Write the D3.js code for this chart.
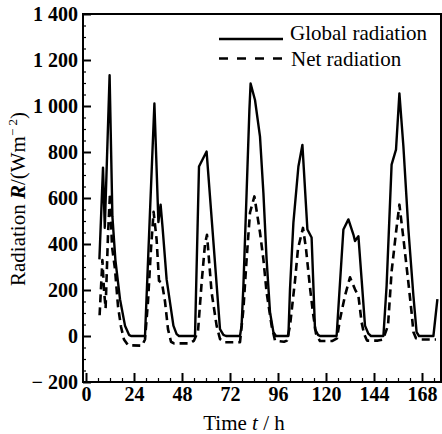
<!DOCTYPE html>
<html>
<head>
<meta charset="utf-8">
<script src="https://cdn.jsdelivr.net/npm/d3@7"></script>
<style>
  body { margin: 0; background: #fff; }
  svg text { font-family: "Liberation Serif", "DejaVu Serif", serif; fill: #000; }
</style>
</head>
<body>
<div id="chart"></div>
<script>
// Global radiation (solid line), hours and W/m2
var globalHours = [6.7, 8.5, 9.4, 11.8, 13.2, 14.7, 17, 19.5, 21.5, 22.5, 29.5,
  32, 34.2, 36.2, 37.3, 38.3, 40.3, 43.7, 45.3, 46.5, 54.5,
  56.5, 60.3, 67, 68.7, 70, 77,
  77.8, 78.7, 80.3, 81.7, 82.3, 84.5, 87, 88.7, 90.3, 92, 93.7, 95, 101.2,
  102, 103.7, 106.2, 108.2, 110.7, 112.8, 114.5, 116, 117, 125.3,
  128.7, 131.2, 133.7, 134.5, 136.2, 137.8, 139.5, 141.2, 142.5, 148.7,
  150.3, 152.8, 155, 156.7, 158.7, 161.2, 163.7, 165.3, 166.5, 173.7, 175.7];
var globalValues = [333, 732, 470, 1134, 520, 330, 160, 45, 5, 0, 0,
  540, 1011, 495, 571, 470, 247, 45, 8, 0, 0,
  737, 802, 30, 5, 0, 0,
  45, 218, 622, 983, 1098, 1026, 867, 622, 333, 104, 17, 0, 0,
  203, 493, 737, 831, 463, 428, 30, 5, 0, 0,
  463, 507, 441, 413, 434, 247, 45, 10, 0, 0,
  218, 745, 810, 1055, 824, 463, 175, 17, 0, 0, 160];

// Net radiation (dashed line)
var netHours = [6.8, 8.2, 9, 9.8, 11, 12, 13, 14.5, 16, 17.5, 19, 21, 28, 29.5,
  31, 32.5, 33.8, 35.3, 36.5, 38, 39.5, 41, 42.5, 44, 52,
  54, 56, 57.8, 59.5, 60.5, 62.8, 65.3, 67, 69, 77,
  78.7, 80.3, 82, 84.2, 87, 88.7, 90.3, 92.8, 94.5, 99,
  100.5, 102, 104.5, 106, 108.5, 110, 112, 113.5, 115, 117, 123,
  125.5, 127, 129.5, 132, 134.5, 136.2, 137.8, 139, 140.5, 146,
  148.5, 151, 152.8, 155, 156.7, 158.5, 161, 162.8, 163.7, 165, 167, 175];
var netValues = [90, 330, 200, 120, 440, 620, 390, 290, 130, 40, -15, -40, -42, -15,
  150, 380, 540, 420, 240, 230, 150, 30, -25, -32, -32,
  -20, 20, 230, 400, 440, 190, 45, -13, -27, -27,
  117, 333, 537, 607, 450, 333, 190, 45, -20, -25,
  -20, 45, 240, 380, 470, 380, 210, 100, 10, -22, -22,
  -10, 73, 175, 255, 203, 175, 60, 10, -20, -20,
  -15, 45, 280, 450, 571, 440, 247, 102, 17, -10, -15, -15];

var xTicks = [0, 24, 48, 72, 96, 120, 144, 168];
var xTickLabels = ['0', '24', '48', '72', '96', '120', '144', '168'];
var yTicks = [-200, 0, 200, 400, 600, 800, 1000, 1200, 1400];
var yTickLabels = ['\u2212 200', '0', '200', '400', '600', '800', '1 000', '1 200', '1 400'];
var seriesNames = ['Global radiation', 'Net radiation'];

var W = 442, H = 434;
var svg = d3.select('#chart').append('svg').attr('width', W).attr('height', H);

var x = d3.scaleLinear().domain([-1.5, 177.5]).range([83, 441]);
var y = d3.scaleLinear().domain([-200, 1400]).range([382, 14]);

// minor ticks
var xMinor = d3.range(0, 178, 6).filter(function (d) { return d % 24 !== 0; });
var yMinor = d3.range(-200, 1401, 50).filter(function (d) { return d % 200 !== 0; });

svg.append('g').attr('transform', 'translate(0,382)')
  .call(d3.axisBottom(x).tickValues(xMinor).tickSize(-4).tickFormat(''))
  .call(function (g) { g.select('.domain').remove(); g.selectAll('line').attr('stroke-width', 1.2); });
svg.append('g').attr('transform', 'translate(83,0)')
  .call(d3.axisLeft(y).tickValues(yMinor).tickSize(-3).tickFormat(''))
  .call(function (g) { g.select('.domain').remove(); g.selectAll('line').attr('stroke-width', 1.2); });

// major ticks
var xAxis = svg.append('g').attr('transform', 'translate(0,382)')
  .call(d3.axisBottom(x).tickValues(xTicks).tickSize(-9).tickPadding(4)
    .tickFormat(function (d, i) { return xTickLabels[i]; }));
var yAxis = svg.append('g').attr('transform', 'translate(83,0)')
  .call(d3.axisLeft(y).tickValues(yTicks).tickSize(-8).tickPadding(5)
    .tickFormat(function (d, i) { return yTickLabels[i]; }));

[xAxis, yAxis].forEach(function (g) {
  g.select('.domain').remove();
  g.selectAll('line').attr('stroke-width', 2);
  g.selectAll('text').attr('font-family', '"Liberation Serif", serif')
    .attr('font-size', 20).attr('font-weight', 'bold');
});
xAxis.selectAll('text').attr('dy', '0.74em');

// frame
svg.append('rect').attr('x', 83).attr('y', 14).attr('width', 358).attr('height', 368)
  .attr('fill', 'none').attr('stroke', '#000').attr('stroke-width', 2);

var line = d3.line().x(function (d) { return x(d[0]); }).y(function (d) { return y(d[1]); });

var netData = netHours.map(function (h, i) { return [h, netValues[i]]; });
var globalData = globalHours.map(function (h, i) { return [h, globalValues[i]]; });

svg.append('path').datum(netData).attr('d', line)
  .attr('fill', 'none').attr('stroke', '#000').attr('stroke-width', 2.6)
  .attr('stroke-dasharray', '8,5').attr('stroke-linejoin', 'round');
svg.append('path').datum(globalData).attr('d', line)
  .attr('fill', 'none').attr('stroke', '#000').attr('stroke-width', 2.4)
  .attr('stroke-linejoin', 'round');

// legend
var legend = svg.append('g');
legend.append('line').attr('x1', 219).attr('x2', 283).attr('y1', 39).attr('y2', 39)
  .attr('stroke', '#000').attr('stroke-width', 2.4);
legend.append('line').attr('x1', 219).attr('x2', 283).attr('y1', 58.5).attr('y2', 58.5)
  .attr('stroke', '#000').attr('stroke-width', 2.4).attr('stroke-dasharray', '9,9');
legend.append('text').attr('x', 290).attr('y', 40).attr('font-size', 21).text(seriesNames[0]);
legend.append('text').attr('x', 291).attr('y', 66).attr('font-size', 21).text(seriesNames[1]);

// axis titles
var xt = svg.append('text').attr('x', 244).attr('y', 430).attr('text-anchor', 'middle').attr('font-size', 21);
xt.append('tspan').text('Time  ');
xt.append('tspan').attr('font-style', 'italic').text('t');
xt.append('tspan').text(' / h');

var yt = svg.append('text').attr('transform', 'translate(25,199) rotate(-90)')
  .attr('text-anchor', 'middle').attr('font-size', 21);
yt.append('tspan').text('Radiation ');
yt.append('tspan').attr('font-style', 'italic').attr('font-weight', 'bold').text('R');
yt.append('tspan').text('/(Wm');
yt.append('tspan').attr('font-size', 13).attr('dy', -8).text('\u2212 2');
yt.append('tspan').attr('dy', 8).text(')');
</script>
</body>
</html>
